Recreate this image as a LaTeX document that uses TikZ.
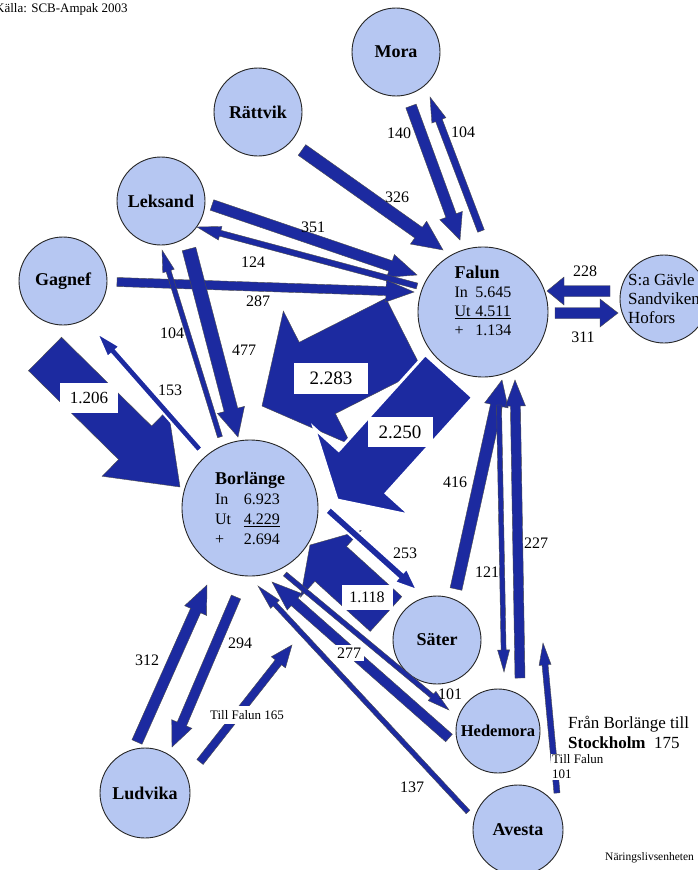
\documentclass[tikz,border=0pt]{standalone}
\usepackage{fontspec}
\setmainfont{Liberation Serif}
\usetikzlibrary{calc}

\definecolor{townblue}{RGB}{182,199,242}
\definecolor{flowblue}{RGB}{28,42,160}

\tikzset{
  town/.style={circle,draw=black!85,line width=0.9pt,fill=townblue,inner sep=1pt,
    font=\fontsize{18}{20}\selectfont\bfseries},
  flowarrow/.style={fill=flowblue,draw=black!70,line width=0.4pt},
  gap/.style={draw=white,line width=2pt},
  num/.style={inner sep=1pt,font=\fontsize{16}{18}\selectfont},
  bignum/.style={fill=white,inner sep=0pt,font=\fontsize{19}{21}\selectfont},
  small/.style={inner sep=3pt,font=\fontsize{13}{15}\selectfont},
}

\newcommand{\pendel}[6][]{%
  \pgfmathsetmacro{\fwa}{#4/2}%
  \pgfmathsetmacro{\fwb}{#5/2}%
  \coordinate (ft) at #2;
  \coordinate (fh) at #3;
  \coordinate (fn) at ($(fh)!#6pt!(ft)$);
  \filldraw[flowarrow,#1] ($(ft)!\fwa pt!90:(fh)$) -- ($(fn)!\fwa pt!-90:(ft)$)
    -- ($(fn)!\fwb pt!-90:(ft)$) -- (fh) -- ($(fn)!\fwb pt!90:(ft)$)
    -- ($(fn)!\fwa pt!90:(ft)$) -- ($(ft)!\fwa pt!-90:(fh)$) -- cycle;
}

\begin{document}
\begin{tikzpicture}[x=1pt,y=-1pt]
    \path[use as bounding box,fill=white] (0,0) rectangle (698,870);

    \node[town,minimum size=88pt] (mora) at (396,52) {Mora};
    \node[town,minimum size=88pt] (rattvik) at (258,112) {Rättvik};
    \node[town,minimum size=88pt] (leksand) at (161,201) {Leksand};
    \node[town,minimum size=88pt] (gagnef) at (63,281) {Gagnef};
    \node[town,minimum size=130pt,align=left,font=\fontsize{16}{19}\selectfont] (falun) at (483,312)
        {{\fontsize{18}{19}\selectfont\bfseries Falun}\\
         \makebox[1.3em][l]{In}5.645\\
         \underline{\makebox[1.3em][l]{Ut}4.511}\\
         \makebox[1.3em][l]{+}1.134\\[4pt]};
    \node[town,minimum size=88pt] (gavle) at (664,299) {};
    \node[align=left,inner sep=0pt,font=\fontsize{17}{19}\selectfont] (gavletext) at (gavle) {S:a Gävle\\Sandviken\\Hofors};
    \node[town,minimum size=136pt,align=left,font=\fontsize{16}{20}\selectfont] (borl) at (250,508)
        {{\fontsize{18}{20}\selectfont\bfseries Borlänge}\\
         \makebox[1.8em][l]{In}6.923\\
         \makebox[1.8em][l]{Ut}\underline{4.229}\\
         \makebox[1.8em][l]{+}2.694};
    \node[town,minimum size=88pt] (sater) at (437,640) {Säter};
    \node[town,minimum size=84pt,font=\fontsize{16.5}{18}\selectfont\bfseries] (hedemora) at (498,731) {Hedemora};
    \node[town,minimum size=90pt] (avesta) at (518,830) {Avesta};
    \node[town,minimum size=90pt] (ludvika) at (145,793) {Ludvika};

    \pendel{($(gagnef)+(-18,73)$)}{($(borl)+(-70,-21)$)}{47}{94}{63}
    \pendel{($(falun)+(-79,22)$)}{($(borl)+(12,-102)$)}{80}{150}{62}
    \pendel[draw=white,line width=3pt]{($(falun)+(-34,64)$)}{($(borl)+(87,-8)$)}{64}{130}{38}
    \pendel{($(sater)+(-51,-26)$)}{($(borl)+(60,37)$)}{47}{90}{28}

    \pendel{($(mora)+(15,54)$)}{($(falun)+(-23,-72)$)}{11}{24}{26}
    \pendel{($(falun)+(-2,-81)$)}{($(mora)+(34,45)$)}{7}{15}{25}
    \pendel{($(rattvik)+(44,38)$)}{($(falun)+(-40,-62)$)}{13}{28}{30}
    \pendel{($(leksand)+(51,4)$)}{($(falun)+(-66,-37)$)}{11}{24}{28}
    \pendel{($(falun)+(-66,-26)$)}{($(leksand)+(36,26)$)}{6}{14}{24}
    \pendel{($(gagnef)+(54,1)$)}{($(falun)+(-69,-20)$)}{9}{22}{28}
    \pendel{($(leksand)+(28,48)$)}{($(borl)+(-12,-71)$)}{14}{28}{28}
    \pendel{($(borl)+(-30,-71)$)}{($(leksand)+(1,49)$)}{5}{12}{22}
    \pendel[gap]{($(borl)+(-50,-58)$)}{($(gagnef)+(34,52)$)}{7}{16}{25}
    \pendel{($(gavle)+(-54,-8)$)}{($(falun)+(64,-21)$)}{11}{28}{17}
    \pendel{($(falun)+(72,1)$)}{($(gavle)+(-46,14)$)}{11}{28}{18}
    \pendel{($(sater)+(19,-51)$)}{($(falun)+(19,68)$)}{12}{24}{26}
    \pendel{($(falun)+(16,93)$)}{($(hedemora)+(6,-59)$)}{5}{12}{22}
    \pendel{($(hedemora)+(22,-53)$)}{($(falun)+(32,68)$)}{10}{20}{26}
    \pendel[gap]{($(borl)+(78,2)$)}{($(sater)+(-20,-50)$)}{8}{18}{22}
    \pendel{($(hedemora)+(-49,7)$)}{($(borl)+(22,74)$)}{10}{22}{30}
    \pendel{($(borl)+(35,66)$)}{($(hedemora)+(-49,-21)$)}{5}{12}{22}
    \pendel{($(avesta)+(-50,-18)$)}{($(borl)+(8,78)$)}{5}{12}{25}
    \pendel{($(ludvika)+(-8,-51)$)}{($(borl)+(-43,77)$)}{11}{24}{28}
    \pendel{($(borl)+(-14,89)$)}{($(ludvika)+(27,-46)$)}{10}{22}{25}
    \coordinate (tf165) at (292,645);
    \pendel{($(ludvika)+(55,-31)$)}{(tf165)}{8}{18}{22}
    \coordinate (tf101) at (543,643);
    \pendel{($(avesta)+(39,-37)$)}{(tf101)}{6}{12}{22}

    \node[bignum,minimum width=58pt,minimum height=30pt,font=\fontsize{17}{19}\selectfont] (n1206) at (89,398) {1.206};
    \node[bignum,minimum width=74pt,minimum height=31pt] (n2283) at (331,378) {2.283};
    \node[bignum,minimum width=65pt,minimum height=30pt] (n2250) at (400,432) {2.250};
    \node[bignum,minimum width=51pt,minimum height=25pt,font=\fontsize{16}{18}\selectfont] (n1118) at (367,597) {1.118};

    \node[num] (n140) at (399,133) {140};
    \node[num] (n104a) at (463,132) {104};
    \node[num] (n326) at (397,197) {326};
    \node[num] (n351) at (313,227) {351};
    \node[num] (n124) at (253,262) {124};
    \node[num] (n287) at (258,301) {287};
    \node[num] (n104b) at (172,333) {104};
    \node[num] (n477) at (244,350) {477};
    \node[num] (n153) at (170,390) {153};
    \node[num] (n228) at (585,271) {228};
    \node[num] (n311) at (583,337) {311};
    \node[num] (n416) at (455,482) {416};
    \node[num] (n121) at (487,572) {121};
    \node[num] (n227) at (536,543) {227};
    \node[num] (n253) at (405,553) {253};
    \node[num,fill=white,inner sep=3pt] (n277) at (349,653) {277};
    \node[num] (n101) at (450,694) {101};
    \node[num] (n137) at (412,787) {137};
    \node[num] (n312) at (147,660) {312};
    \node[num] (n294) at (240,643) {294};

    \node[small,fill=white,inner sep=4pt] (till165) at (247,715) {Till Falun 165};
    \node[small,fill=white,align=left,anchor=west,inner sep=1pt] (till101) at (551,767) {Till Falun\\101};
    \node[align=left,anchor=west,inner sep=0pt,font=\fontsize{17}{20}\selectfont] (sthlm) at (568,732)
        {Från Borlänge till\\\textbf{Stockholm}\ \ 175};
    \node[anchor=west,inner sep=0pt,font=\fontsize{13}{15}\selectfont] (kalla) at (-5,9) {Källa: SCB-Ampak 2003};
    \node[anchor=west,inner sep=0pt,font=\fontsize{11.5}{13}\selectfont] (nlv) at (605,858) {Näringslivsenheten};
\end{tikzpicture}
\end{document}
